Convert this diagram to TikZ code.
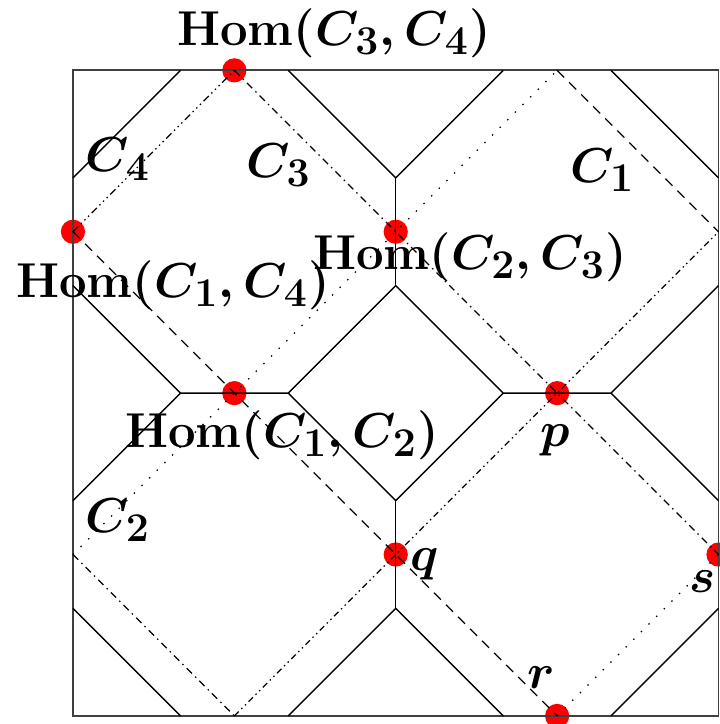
\documentclass[tikz,border=0pt]{standalone}
\usepackage{amsmath}
\DeclareMathSizes{18}{18}{14}{10}
\begin{document}
\begin{tikzpicture}[x=2cm,y=2cm,
  tile/.style={line width=0.5pt},
  frame/.style={line width=0.6pt, draw=black!75},
  reddot/.style={circle, fill=red, inner sep=0pt, minimum size=0.3cm},
  lbl/.style={inner sep=0pt, font=\fontsize{18}{21}\selectfont\boldmath},
  ldot/.style={line width=0.45pt, dash pattern=on 0.5pt off 3.3pt},
  ldash/.style={line width=0.45pt, dash pattern=on 3.5pt off 2.5pt},
  ldashdot/.style={line width=0.45pt, dash pattern=on 2.6pt off 1.6pt on 0.5pt off 1.6pt},
  ldashdotdot/.style={line width=0.45pt, dash pattern=on 2.2pt off 1.3pt on 0.5pt off 1.3pt on 0.5pt off 1.3pt},
  ldashdotdotdot/.style={line width=0.45pt, dash pattern=on 2.6pt off 1.3pt on 0.5pt off 1.3pt on 0.5pt off 1.3pt on 0.5pt off 1.3pt}]
\useasboundingbox (-0.452,-0.05) rectangle (4.009,4.436);

% red points
\node[reddot] (H34) at (1,4) {};
\node[reddot] (H14) at (0,3) {};
\node[reddot] (H23) at (2,3) {};
\node[reddot] (H12) at (1,2) {};
\node[reddot] (P) at (3,2) {};
\node[reddot] (Q) at (2,1) {};
\node[reddot] (S) at (4,1) {};
\node[reddot] (R) at (3,0) {};
\coordinate (T34) at (3,4);
\coordinate (T43) at (4,3);
\coordinate (T01) at (0,1);
\coordinate (T10) at (1,0);

% frame
\draw[frame] (0,0) rectangle (4,4);

% truncated square tiling
\draw[tile] (2/3,4) -- (0,10/3);
\draw[tile] (4/3,4) -- (2,10/3) -- (8/3,4);
\draw[tile] (10/3,4) -- (4,10/3);
\draw[tile] (2,10/3) -- (2,8/3);
\draw[tile] (0,8/3) -- (2/3,2) -- (4/3,2) -- (2,8/3) -- (8/3,2) -- (10/3,2) -- (4,8/3);
\draw[tile] (0,4/3) -- (2/3,2);
\draw[tile] (4/3,2) -- (2,4/3) -- (8/3,2);
\draw[tile] (10/3,2) -- (4,4/3);
\draw[tile] (2,4/3) -- (2,2/3);
\draw[tile] (0,2/3) -- (2/3,0);
\draw[tile] (4/3,0) -- (2,2/3) -- (8/3,0);
\draw[tile] (10/3,0) -- (4,2/3);

% diagonal lines
\draw[ldashdotdotdot] (H14.center) -- (H34.center);
\draw[ldot] (T01) -- (H12.center) -- (H23.center) -- (T34);
\draw[ldashdotdot] (T10) -- (Q.center) -- (P.center) -- (T43);
\draw[ldot] (R.center) -- (S.center);
\draw[ldash] (T34) -- (T43);
\draw[ldashdot] (H34.center) -- (H23.center) -- (P.center) -- (S.center);
\draw[ldash] (H14.center) -- (H12.center) -- (Q.center) -- (R.center);
\draw[ldashdot] (T01) -- (T10);

% labels
\node[lbl] (L34) at (1.617,4.232) {$\mathbf{Hom}(C_3,C_4)$};
\node[lbl] (L23) at (2.46,2.844) {$\mathbf{Hom}(C_2,C_3)$};
\node[lbl] (L14) at (0.62,2.67) {$\mathbf{Hom}(C_1,C_4)$};
\node[lbl] (L12) at (1.295,1.741) {$\mathbf{Hom}(C_1,C_2)$};
\node[lbl] (C4) at (0.28,3.45) {$C_4$};
\node[lbl] (C3) at (1.276,3.414) {$C_3$};
\node[lbl] (C1) at (3.28,3.383) {$C_1$};
\node[lbl] (C2) at (0.28,1.214) {$C_2$};
\node[lbl] (Lp) at (2.99,1.71) {$p$};
\node[lbl] (Lq) at (2.18,0.936) {$q$};
\node[lbl] (Ls) at (3.90,0.83) {$s$};
\node[lbl] (Lr) at (2.90,0.235) {$r$};
\end{tikzpicture}
\end{document}
